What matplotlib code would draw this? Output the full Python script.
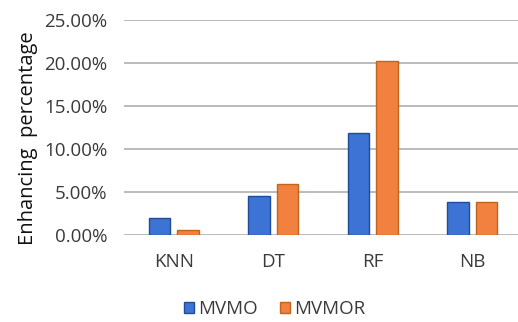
import numpy as np
import matplotlib.pyplot as plt
from matplotlib.ticker import PercentFormatter

# data
models = ['KNN', 'DT', 'RF', 'NB']
mvmo = [0.0198, 0.0452, 0.1185, 0.0386]
mvmor = [0.0060, 0.0590, 0.2020, 0.0386]

plt.rcParams['font.family'] = ['Open Sans', 'DejaVu Sans']

fig = plt.figure(figsize=(5.18, 3.22), dpi=100)
ax = fig.add_axes([124 / 518, 1 - 235 / 322, 398 / 518, 215 / 322])

x = np.arange(len(models))
w = 0.22
ax.bar(x - 0.143, mvmo, w, color='#3C73D5', edgecolor='#1F4C96', linewidth=1, label='MVMO', zorder=3)
ax.bar(x + 0.143, mvmor, w, color='#F2803F', edgecolor='#C0651E', linewidth=1, label='MVMOR', zorder=3)

ax.set_xlim(-0.5, 3.5)
ax.set_ylim(0, 0.25)
ax.set_yticks(np.arange(0, 0.2501, 0.05))
ax.yaxis.set_major_formatter(PercentFormatter(1.0, decimals=2))
ax.set_xticks(x)
ax.set_xticklabels(models)
ax.grid(axis='y', color='#b5b5b5', linewidth=1.3, zorder=0)
for s in ax.spines.values():
    s.set_visible(False)
ax.tick_params(axis='both', length=0, labelsize=13.5, colors='#3a3a3a')
ax.tick_params(axis='y', pad=12)
ax.tick_params(axis='x', pad=13)
ax.set_ylabel('Enhancing  percentage', fontsize=14.5, color='#111111')
ax.yaxis.set_label_coords(-0.215, 0.45)

fig.legend(loc='center', bbox_to_anchor=(275 / 518, 1 - 309 / 322), ncol=2, frameon=False,
           fontsize=13.5, handlelength=0.5, handleheight=0.5, handletextpad=0.25,
           columnspacing=1.2, labelcolor='#3a3a3a')

fig.savefig('out.png', dpi=100)
